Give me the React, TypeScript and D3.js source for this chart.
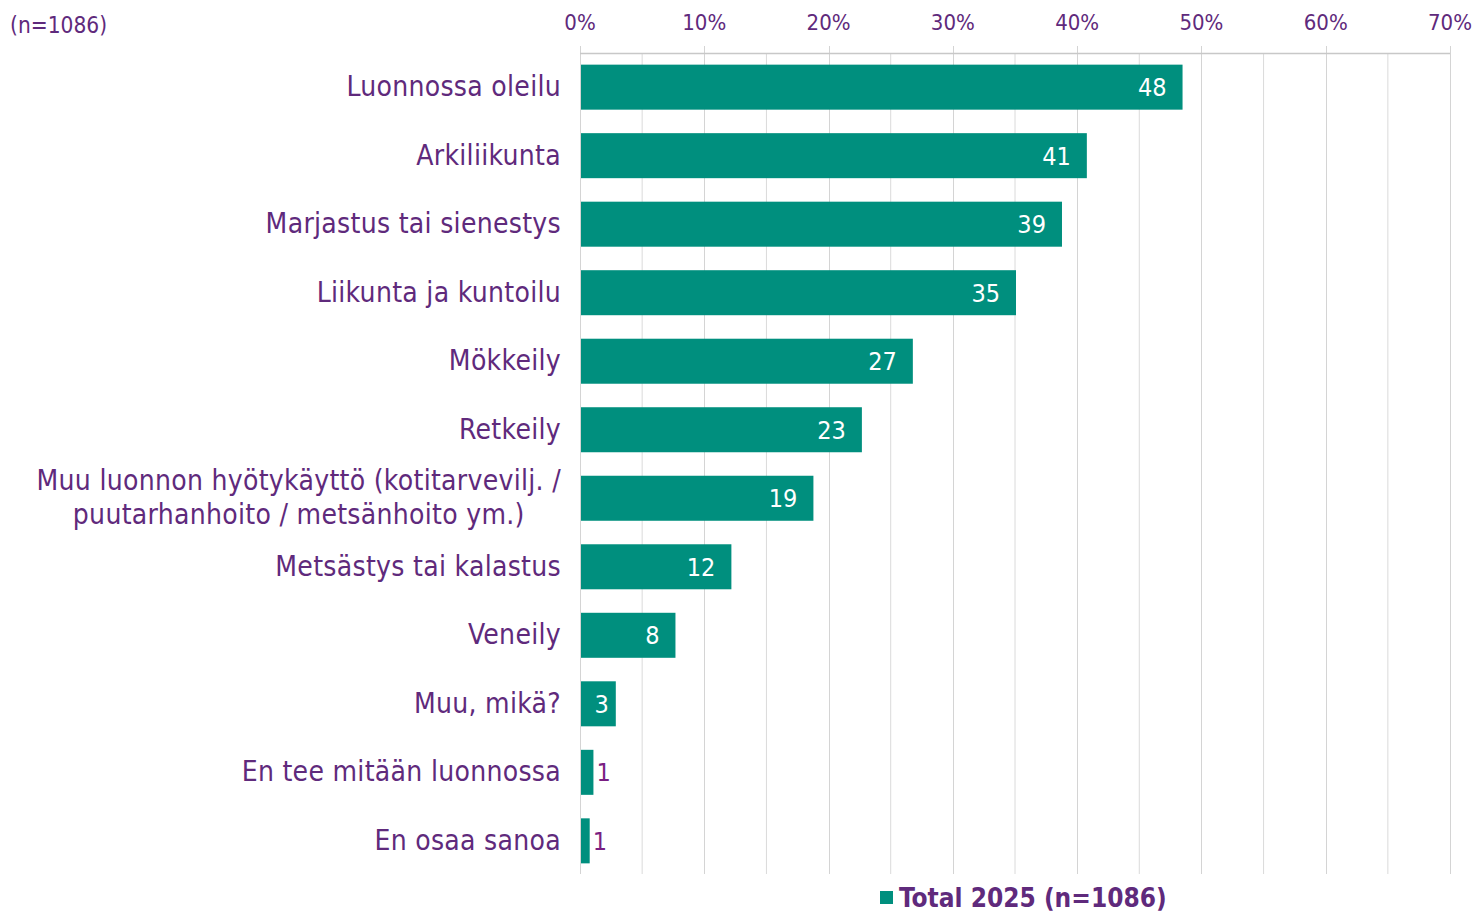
import { useRef, useEffect } from "react";
import * as d3 from "d3";

const categories = [
  "Luonnossa oleilu",
  "Arkiliikunta",
  "Marjastus tai sienestys",
  "Liikunta ja kuntoilu",
  "Mökkeily",
  "Retkeily",
  "Muu luonnon hyötykäyttö (kotitarvevilj. /\npuutarhanhoito / metsänhoito ym.)",
  "Metsästys tai kalastus",
  "Veneily",
  "Muu, mikä?",
  "En tee mitään luonnossa",
  "En osaa sanoa",
];
const values = [48.4, 40.7, 38.7, 35.0, 26.7, 22.6, 18.7, 12.1, 7.6, 2.8, 1.0, 0.7];
const xTicks = [0, 10, 20, 30, 40, 50, 60, 70];
const gridSteps = [5, 15, 25, 35, 45, 55, 65];
const seriesName = "Total 2025 (n=1086)";
const baseNote = "(n=1086)";

const W = 1478;
const H = 913;
const TEAL = "#008F7E";
const PURPLE = "#5F2A7C";
const LABEL_PURPLE = "#7A1E82";
const FONT = "'DejaVu Sans Condensed', 'DejaVu Sans', sans-serif";

export default function App() {
  const svgRef = useRef<SVGSVGElement>(null);

  useEffect(() => {
    const svg = d3.select(svgRef.current);
    svg.selectAll("*").remove();

    const x = d3.scaleLinear().domain([0, 70]).range([580, 1450]);
    const y = d3
      .scaleBand<string>()
      .domain(categories)
      .range([53, 875])
      .paddingInner(0.343)
      .paddingOuter(0.17);
    const axisY = 53.5;

    // minor gridlines (every 5%)
    svg
      .append("g")
      .selectAll("line")
      .data(gridSteps)
      .enter()
      .append("line")
      .attr("x1", (d) => x(d))
      .attr("x2", (d) => x(d))
      .attr("y1", axisY)
      .attr("y2", 874)
      .attr("stroke", "#dadada")
      .attr("stroke-width", 1);

    // major gridlines + ticks above axis
    svg
      .append("g")
      .selectAll("line")
      .data(xTicks)
      .enter()
      .append("line")
      .attr("x1", (d) => Math.round(x(d)) + 0.5)
      .attr("x2", (d) => Math.round(x(d)) + 0.5)
      .attr("y1", 46)
      .attr("y2", 874)
      .attr("stroke", "#d4d4d4")
      .attr("stroke-width", 1);

    // top axis line
    svg
      .append("line")
      .attr("x1", x(0))
      .attr("x2", x(70))
      .attr("y1", axisY)
      .attr("y2", axisY)
      .attr("stroke", "#c8c8c8")
      .attr("stroke-width", 1.5);

    // tick labels
    svg
      .append("g")
      .selectAll("text")
      .data(xTicks)
      .enter()
      .append("text")
      .attr("x", (d) => x(d))
      .attr("y", 30)
      .attr("text-anchor", "middle")
      .attr("fill", PURPLE)
      .attr("font-family", FONT)
      .attr("font-size", "22px")
      .text((d) => `${d}%`);

    // bars
    svg
      .append("g")
      .selectAll("rect")
      .data(values)
      .enter()
      .append("rect")
      .attr("x", x(0) + 1)
      .attr("y", (_, i) => y(categories[i]) as number)
      .attr("width", (d) => x(d) - x(0))
      .attr("height", y.bandwidth())
      .attr("fill", TEAL);

    // data labels
    values.forEach((v, i) => {
      const cy = (y(categories[i]) as number) + y.bandwidth() / 2;
      const barEnd = x(v);
      const barW = barEnd - x(0);
      const label = String(Math.round(v));
      const t = svg
        .append("text")
        .attr("y", cy + 9)
        .attr("font-family", FONT)
        .attr("font-size", "25px")
        .text(label);
      if (barW > 25) {
        const pad = barW < 50 ? 6 : 15;
        t.attr("x", barEnd - pad).attr("text-anchor", "end").attr("fill", "#ffffff");
      } else {
        t.attr("x", barEnd + 4).attr("text-anchor", "start").attr("fill", LABEL_PURPLE);
      }
    });

    // category labels (multi-line labels centred as a block, right-aligned)
    categories.forEach((c) => {
      const lines = c.split("\n");
      const cy = (y(c) as number) + y.bandwidth() / 2;
      const lh = 34;
      const t = svg
        .append("text")
        .attr("fill", PURPLE)
        .attr("font-family", FONT)
        .attr("font-size", "28px")
        .attr("letter-spacing", "0.3px");
      const spans = lines.map((ln, j) =>
        t
          .append("tspan")
          .attr("y", cy + 9 + (j - (lines.length - 1) / 2) * lh)
          .text(ln)
      );
      const right = 561;
      if (lines.length === 1) {
        t.attr("text-anchor", "end");
        spans[0].attr("x", right);
      } else {
        const widths = spans.map((s) => (s.node() as SVGTSpanElement).getComputedTextLength());
        const maxW = Math.max(...widths);
        t.attr("text-anchor", "middle");
        spans.forEach((s) => s.attr("x", right - maxW / 2));
      }
    });

    // base note
    svg
      .append("text")
      .attr("x", 10)
      .attr("y", 33)
      .attr("fill", PURPLE)
      .attr("font-family", FONT)
      .attr("font-size", "22.5px")
      .text(baseNote);

    // legend
    svg
      .append("rect")
      .attr("x", 880)
      .attr("y", 891)
      .attr("width", 13)
      .attr("height", 13)
      .attr("fill", TEAL);
    svg
      .append("text")
      .attr("x", 899)
      .attr("y", 907)
      .attr("fill", PURPLE)
      .attr("font-family", FONT)
      .attr("font-size", "26px")
      .attr("font-weight", "bold")
      .text(seriesName);
  }, []);

  return (
    <div style={{ position: "fixed", left: 0, top: 0, width: W, height: H, background: "#fff" }}>
      <svg ref={svgRef} width={W} height={H} style={{ display: "block" }} />
    </div>
  );
}
